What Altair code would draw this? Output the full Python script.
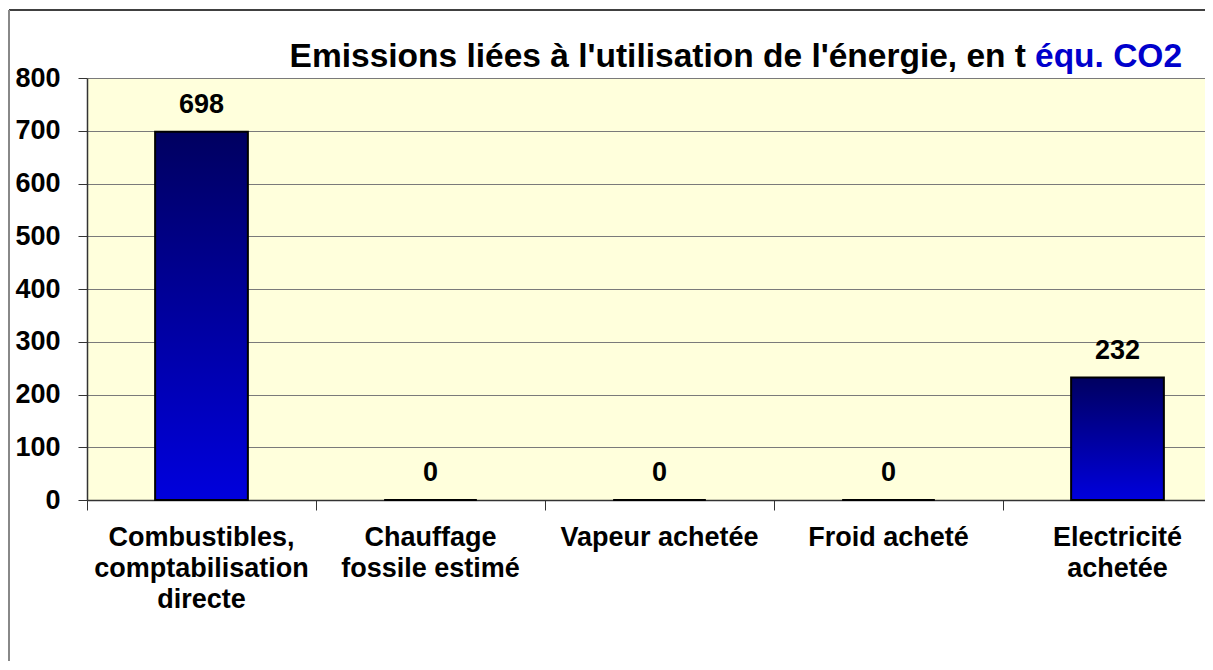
import altair as alt
import pandas as pd

categories = ["Combustibles, comptabilisation directe", "Chauffage fossile estimé",
              "Vapeur achetée", "Froid acheté", "Electricité achetée"]
cat_labels = ["Combustibles,\ncomptabilisation\ndirecte", "Chauffage\nfossile estimé",
              "Vapeur achetée", "Froid acheté", "Electricité\nachetée"]
values = [698, 0, 0, 0, 232]
y_ticks = [0, 100, 200, 300, 400, 500, 600, 700, 800]
title_black = "Emissions liées à l'utilisation de l'énergie, en t"
title_blue = "équ. CO2"

df = pd.DataFrame({"cat": categories, "label": cat_labels, "value": values})
one = pd.DataFrame({"a": [0]})

FONT = "Liberation Sans"
PLOT_W = 1118
PLOT_H = 422

xscale = alt.Scale(domain=categories, range=[0, 1145], paddingInner=0, paddingOuter=0)

base = alt.Chart(df)

bars = base.mark_bar(
    width=alt.RelativeBandSize(0.405),
    stroke="black",
    strokeWidth=2,
    color=alt.Gradient(
        gradient="linear",
        stops=[alt.GradientStop(color="#000060", offset=0),
               alt.GradientStop(color="#0000DD", offset=1)],
        x1=0, x2=0, y1=0, y2=1,
    ),
).encode(
    x=alt.X("cat:N", sort=categories, scale=xscale,
            axis=alt.Axis(title=None, labels=False, tickBand="extent", tickSize=10,
                          tickColor="#333333", domainColor="#333333", grid=False,
                          domainWidth=1.5)),
    y=alt.Y("value:Q", scale=alt.Scale(domain=[0, 800], nice=False),
            axis=alt.Axis(title=None, values=y_ticks, tickSize=9, labelPadding=18,
                          labelFont=FONT, labelFontSize=27, labelFontWeight="bold",
                          labelColor="black", grid=True, gridColor="#7a7a7a",
                          gridWidth=1, tickColor="#333333", domainColor="#333333",
                          domainWidth=1.5)),
)

vals = base.mark_text(
    font=FONT, fontSize=27, fontWeight="bold", baseline="alphabetic", dy=-19, color="black"
).encode(
    x=alt.X("cat:N", sort=categories, scale=xscale),
    y=alt.Y("value:Q"),
    text=alt.Text("value:Q"),
)

xlabels = base.mark_text(
    font=FONT, fontSize=27, fontWeight="bold", baseline="top", lineBreak="\n",
    lineHeight=31, align="center", color="black"
).encode(
    x=alt.X("cat:N", sort=categories, scale=xscale),
    y=alt.value(447),
    text="label:N",
)

t_black = alt.Chart(one).mark_text(
    font=FONT, fontSize=33.5, fontWeight="bold", align="right", baseline="alphabetic",
    color="black", text=title_black
).encode(x=alt.value(939), y=alt.value(-11))

t_blue = alt.Chart(one).mark_text(
    font=FONT, fontSize=33.5, fontWeight="bold", align="left", baseline="alphabetic",
    color="#0000CC", text=title_blue
).encode(x=alt.value(948), y=alt.value(-11))

border_top = alt.Chart(one).mark_rule(color="#404040", strokeWidth=2).encode(
    x=alt.value(-78), x2=alt.value(PLOT_W), y=alt.value(-68))
border_left = alt.Chart(one).mark_rule(color="#888888", strokeWidth=2).encode(
    x=alt.value(-78), y=alt.value(-68), y2=alt.value(600))

chart = alt.layer(bars, vals, xlabels, t_black, t_blue, border_top, border_left).properties(
    width=PLOT_W,
    height=PLOT_H,
    autosize=alt.AutoSizeParams(type="none"),
    padding={"left": 79, "top": 70, "right": 0, "bottom": 161},
    background="white",
).configure_view(
    stroke=None, fill="#FFFFDC"
)

chart.save("out.html", embed_options={"renderer": "svg", "actions": False})
